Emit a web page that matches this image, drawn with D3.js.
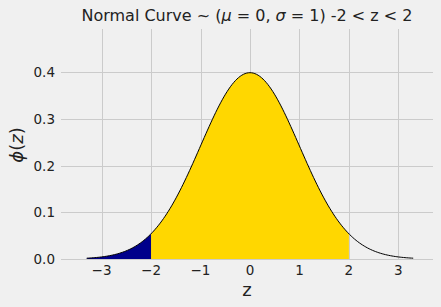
<!DOCTYPE html>
<html>
<head>
<meta charset="utf-8">
<script src="https://cdnjs.cloudflare.com/ajax/libs/d3/7.8.5/d3.min.js"></script>
<style>
  body { margin: 0; background: #f0f0f0; }
  svg { display: block; font-family: "DejaVu Sans", sans-serif; }
</style>
</head>
<body>
<div id="chart"></div>
<script>
// values
var xTicks = [-3, -2, -1, 0, 1, 2, 3];
var yTicks = [0.0, 0.1, 0.2, 0.3, 0.4];
var curveRange = [-3.3, 3.3];
var shadeRange = [-2, 2];
var tailRange = [-3.3, -2];

var width = 441, height = 307;
var margin = {left: 61, right: 8, top: 29, bottom: 48};

var x = d3.scaleLinear().domain([-3.82, 3.7]).range([margin.left, width - margin.right]);
var y = d3.scaleLinear().domain([0, 0.4925]).range([height - margin.bottom, margin.top]);

function pdf(z){ return Math.exp(-z*z/2) / Math.sqrt(2*Math.PI); }
function points(r){
    var n = 200, pts = [];
    for(var i=0; i<=n; i++){
        var z = r[0] + (r[1]-r[0])*i/n;
        pts.push([z, pdf(z)]);
    }
    return pts;
}

var svg = d3.select('#chart').append('svg')
    .attr('width', width).attr('height', height);
svg.append('rect').attr('width', width).attr('height', height).attr('fill', '#f0f0f0');

var grid = svg.append('g').attr('stroke', '#cbcbcb').attr('stroke-width', 1);
grid.selectAll('line.v').data(xTicks).enter().append('line')
    .attr('x1', function(d){ return Math.round(x(d))+0.5; })
    .attr('x2', function(d){ return Math.round(x(d))+0.5; })
    .attr('y1', y.range()[1]).attr('y2', y.range()[0]);
grid.selectAll('line.h').data(yTicks).enter().append('line')
    .attr('y1', function(d){ return Math.round(y(d))+0.5; })
    .attr('y2', function(d){ return Math.round(y(d))+0.5; })
    .attr('x1', x.range()[0]).attr('x2', x.range()[1]);

var area = d3.area()
    .x(function(d){ return x(d[0]); })
    .y0(y(0))
    .y1(function(d){ return y(d[1]); });

svg.append('path').datum(points(shadeRange)).attr('d', area).attr('fill', '#ffd700');
svg.append('path').datum(points(tailRange)).attr('d', area).attr('fill', '#00008b');

var line = d3.line().x(function(d){ return x(d[0]); }).y(function(d){ return y(d[1]); });
svg.append('path').datum(points(curveRange)).attr('d', line)
    .attr('fill', 'none').attr('stroke', '#000').attr('stroke-width', 1);

// tick labels
svg.append('g').selectAll('text').data(xTicks).enter().append('text')
    .attr('x', function(d){ return x(d); })
    .attr('y', y(0) + 16)
    .attr('text-anchor', 'middle')
    .attr('font-size', 13.5).attr('fill', '#222')
    .text(function(d){ return d < 0 ? '\u2212' + Math.abs(d) : d; });
svg.append('g').selectAll('text').data(yTicks).enter().append('text')
    .attr('x', 55)
    .attr('y', function(d){ return y(d) + 5; })
    .attr('text-anchor', 'end')
    .attr('font-size', 13.5).attr('fill', '#222')
    .text(function(d){ return d.toFixed(1); });

// axis labels
svg.append('text').attr('x', 247).attr('y', 296)
    .attr('text-anchor', 'middle').attr('font-size', 18).attr('fill', '#222')
    .text('z');
svg.append('text')
    .attr('transform', 'translate(23,145)rotate(-90)')
    .attr('text-anchor', 'middle').attr('font-size', 18).attr('fill', '#222')
    .html('<tspan font-style="italic">\u03d5</tspan>(<tspan font-style="italic">z</tspan>)');

// title
svg.append('text').attr('x', 247).attr('y', 21)
    .attr('text-anchor', 'middle').attr('font-size', 16).attr('fill', '#222')
    .html('Normal Curve ~ (<tspan font-style="italic">\u03bc</tspan> = 0, <tspan font-style="italic">\u03c3</tspan> = 1) -2 &lt; z &lt; 2');
</script>
</body>
</html>
